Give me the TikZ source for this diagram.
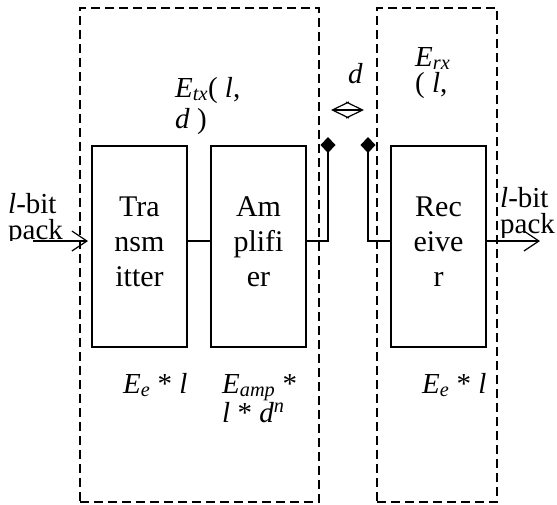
\documentclass[tikz,border=0pt]{standalone}
\usepackage{fontspec}
\setmainfont{Liberation Serif}
\usetikzlibrary{arrows.meta,positioning}

\tikzset{
	antenna/.tip={Diamond[length=16pt, width=15pt]},
	span/.tip={Straight Barb[length=16.5pt, width=16pt]},
	feed/.tip={Straight Barb[length=15pt, width=20pt]},
}

\begin{document}
\begin{tikzpicture}[
	x = 1pt, y = -1pt, % pixel-like units, y pointing down
	font = \fontsize{29}{35}\selectfont,
	block/.style={rectangle, draw=black, line width=1.6pt, outer sep=0pt, inner sep=0pt,
		minimum width=95pt, minimum height=201pt, align=center, text depth=9pt,
		font=\fontsize{30}{35}\selectfont},
	group/.style={rectangle, draw=black, line width=1.2pt, dash pattern=on 9pt off 5pt, inner sep=0pt},
	wire/.style={line width=1.2pt},
	lbl/.style={inner sep=0pt, align=left, anchor=base west}, % base = last line
	tight/.style={font=\fontsize{29}{26}\selectfont},
	]

	\useasboundingbox (0,0) rectangle (557,504);

	% dashed groups
	\node[group, minimum width=239pt, minimum height=494pt] (txgrp) at (199.5,255) {};
	\node[group, minimum width=120pt, minimum height=494pt] (rxgrp) at (437,255) {};

	% blocks
	\node[block] (trans) at (139.5,246.5) {Tra\\nsm\\itter};
	\node[block, right = 24pt of trans] (amp) {Am\\plifi\\er};
	\node[block, right = 85pt of amp] (rec) {Rec\\eive\\r};

	% helper points
	\coordinate (sig)   at (0,241);
	\coordinate (src)   at (33,241);
	\coordinate (snk)   at (540,241);
	\coordinate (txant) at (328,137);
	\coordinate (rxant) at (368,137);
	\coordinate (dl)    at (331,110);
	\coordinate (dr)    at (364,110);

	% labels
	\begin{scope}
		\clip (0,170) rectangle (80,240);
		\node[lbl, tight] (inlbl) at (8,239) {\textit{l}-bit\\pack};
	\end{scope}
	\begin{scope}
		\clip (497,170) rectangle (557,237);
		\node[lbl, tight] (outlbl) at (500,233) {\textit{l}-bit\\pack};
	\end{scope}
	\node[lbl, font=\fontsize{29}{31}\selectfont] (etx) at (175,128) {\textit{E}\textsubscript{\textit{tx}}( \textit{l},\\\textit{d} )};
	\node[lbl] (dlbl) at (348,83) {\textit{d}};
	\node[lbl, tight] (erx) at (415,92) {\textit{E}\textsubscript{\textit{rx}}\\( \textit{l},};
	\node[lbl] (etr) at (123,393) {\textit{E}\textsubscript{\textit{e}} * \textit{l}};
	\node[lbl, font=\fontsize{29}{29}\selectfont] (eamp) at (222,422) {\textit{E}\textsubscript{\textit{amp}} *\\\textit{l} * \textit{d}\textsuperscript{\textit{n}}};
	\node[lbl] (erc) at (422,393) {\textit{E}\textsubscript{\textit{e}} * \textit{l}};

	% connections
	\draw[wire, -feed, shorten >=4pt] (src) -- (src -| trans.west);
	\draw[wire] (trans.east |- sig) -- (amp.west |- sig);
	\draw[wire, -antenna] (amp.east |- sig) -| (txant);
	\draw[wire, antenna-] (rxant) |- (rec.west |- sig);
	\draw[wire, -feed] (rec.east |- sig) -- (snk);
	\draw[wire, span-span] (dl) -- (dr);

\end{tikzpicture}
\end{document}
